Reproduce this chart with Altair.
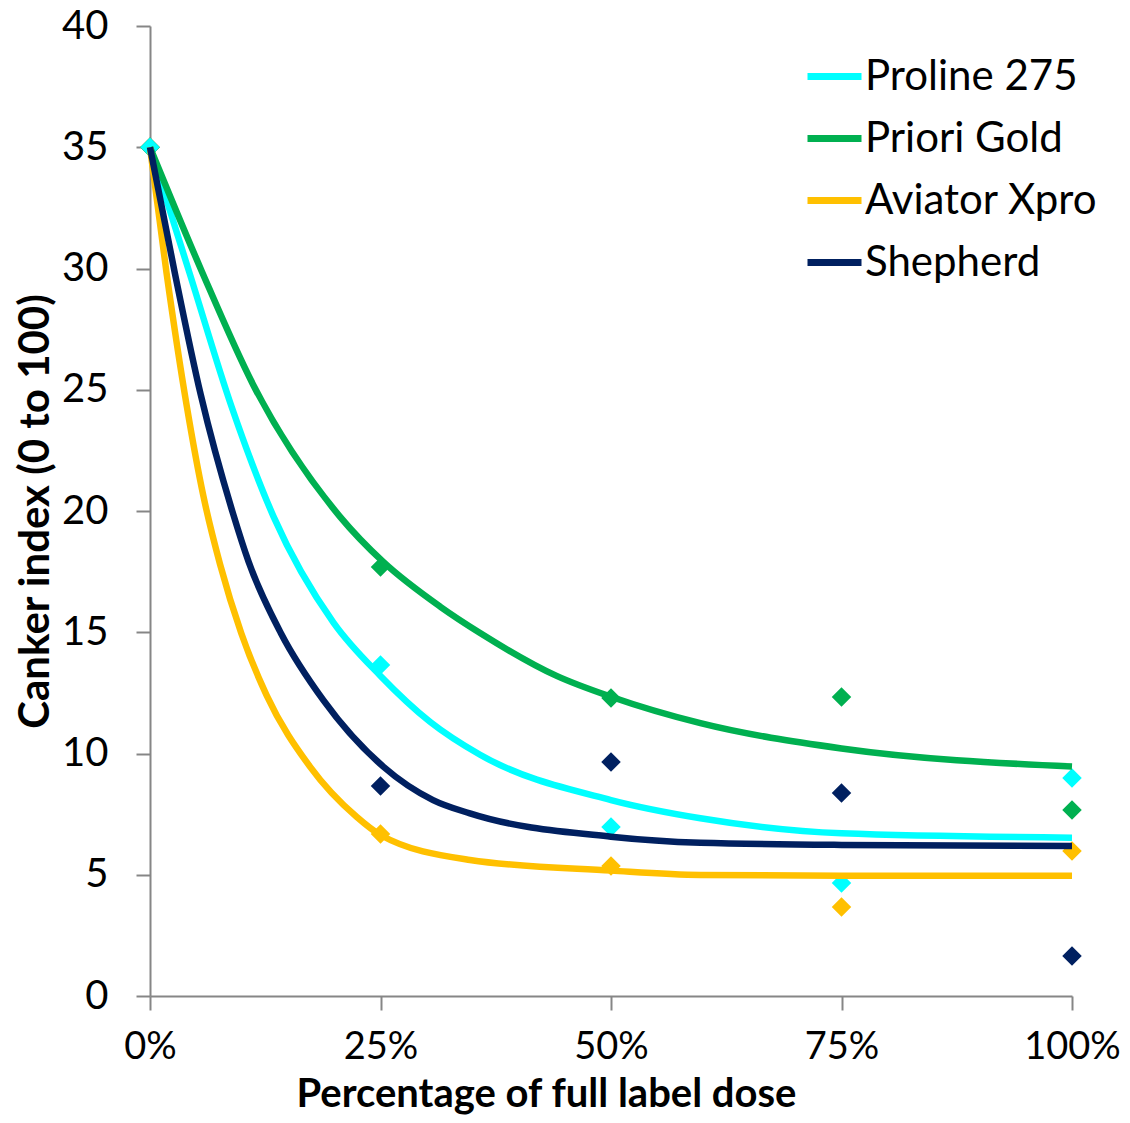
import altair as alt
import pandas as pd

products = ["Proline 275", "Priori Gold", "Aviator Xpro", "Shepherd"]
colors = ["#00FFFF", "#00B050", "#FFC000", "#002060"]

# observed values (diamonds)
obs_dose = [0, 25, 50, 75, 100]
obs_proline = [35, 13.65, 6.97, 4.66, 8.99]
obs_priori = [35, 17.69, 12.29, 12.33, 7.67]
obs_aviator = [35, 6.68, 5.36, 3.67, 5.98]
obs_shepherd = [35, 8.66, 9.65, 8.37, 1.65]

# fitted curves
fit_proline_dose = [0, 4.3, 8.85, 13.4, 19.9, 25, 30.4, 35.8, 50, 59.7, 75, 100]
fit_proline_val = [35, 29.8, 24.3, 19.77, 15.4, 13.2, 11.3, 9.95, 8.08, 7.33, 6.71, 6.53]

fit_priori_dose = [0, 5.6, 11.2, 20.6, 25.3, 31.5, 35.8, 44.1, 50, 59.7, 75, 100]
fit_priori_val = [35, 29.9, 25.2, 19.77, 17.9, 16.05, 14.97, 13.2, 12.34, 11.25, 10.21, 9.46]

fit_aviator_dose = [0, 1.8, 4.0, 5.8, 7.6, 9.9, 12.65, 17.35, 22.4, 25, 34.7, 50, 59.7, 75, 100]
fit_aviator_val = [35, 29.8, 24.3, 20.6, 17.8, 14.96, 12.4, 9.46, 7.39, 6.64, 5.61, 5.17, 4.99, 4.96, 4.96]

fit_shepherd_dose = [0, 2.7, 5.5, 9.0, 10.7, 14.2, 18.8, 25.3, 30.7, 34.7, 50, 59.7, 75, 100]
fit_shepherd_val = [35, 29.8, 24.8, 19.9, 17.9, 14.96, 12.2, 9.46, 8.08, 7.53, 6.57, 6.32, 6.23, 6.19]

fits = {
    "Proline 275": (fit_proline_dose, fit_proline_val),
    "Priori Gold": (fit_priori_dose, fit_priori_val),
    "Aviator Xpro": (fit_aviator_dose, fit_aviator_val),
    "Shepherd": (fit_shepherd_dose, fit_shepherd_val),
}
obs = {
    "Proline 275": obs_proline,
    "Priori Gold": obs_priori,
    "Aviator Xpro": obs_aviator,
    "Shepherd": obs_shepherd,
}

line_rows = []
for p in products:
    d, v = fits[p]
    for i, (xx, yy) in enumerate(zip(d, v)):
        line_rows.append({"product": p, "dose": xx, "index": yy, "ord": i})
line_df = pd.DataFrame(line_rows)

pt_rows = []
for p in ["Shepherd", "Aviator Xpro", "Priori Gold", "Proline 275"]:
    for xx, yy in zip(obs_dose, obs[p]):
        pt_rows.append({"product": p, "dose": xx, "index": yy})
pt_df = pd.DataFrame(pt_rows)

FONT = "Lato"

x_enc = alt.X(
    "dose:Q",
    scale=alt.Scale(domain=[0, 100], nice=False),
    axis=alt.Axis(
        values=[0, 25, 50, 75, 100],
        labelExpr="datum.value + '%'",
        labelFlush=False,
        labelFontSize=38,
        title="Percentage of full label dose",
        titleX=396,
        titleY=110,
        titleBaseline="alphabetic",
        titleFontSize=40,
        labelPadding=18,
    ),
)
y_enc = alt.Y(
    "index:Q",
    scale=alt.Scale(domain=[0, 40], nice=False),
    axis=alt.Axis(
        values=[0, 5, 10, 15, 20, 25, 30, 35, 40],
        labelFlush=False,
        title="Canker index (0 to 100)",
        titleX=-102,
        titleY=485,
        titleBaseline="alphabetic",
        titleAngle=270,
        labelPadding=28,
    ),
)

points = alt.Chart(pt_df).mark_point(
    shape="diamond", filled=True, size=380, opacity=1
).encode(
    x=x_enc,
    y=y_enc,
    color=alt.Color("product:N", scale=alt.Scale(domain=products, range=colors), legend=None),
)

lines = alt.Chart(line_df).mark_line(
    strokeWidth=6.5, interpolate="monotone"
).encode(
    x=x_enc,
    y=y_enc,
    order="ord:Q",
    color=alt.Color(
        "product:N",
        scale=alt.Scale(domain=products, range=colors),
        legend=alt.Legend(
            title=None,
            orient="none",
            legendX=654,
            legendY=20,
            symbolType="stroke",
            symbolSize=2916,
            symbolStrokeWidth=7,
            labelFont=FONT,
            labelFontSize=42,
            labelColor="#000000",
            labelOffset=0,
            labelLimit=500,
            rowPadding=10,
            padding=0,
        ),
    ),
)

chart = alt.layer(points, lines).resolve_scale(color="independent").properties(
    width=922,
    height=970,
    autosize=alt.AutoSizeParams(type="none"),
    padding={"left": 142, "top": 18, "right": 50, "bottom": 119},
).configure_view(stroke=None).configure_axis(
    grid=False,
    domainColor="#868686",
    domainWidth=2,
    tickColor="#868686",
    tickWidth=2,
    tickSize=14,
    labelFont=FONT,
    labelFontSize=40,
    labelColor="#000000",
    titleFont=FONT,
    titleFontSize=42,
    titleFontWeight="bold",
    titleColor="#000000",
)

chart.save("out.html", embed_options={"renderer": "svg", "actions": False})
